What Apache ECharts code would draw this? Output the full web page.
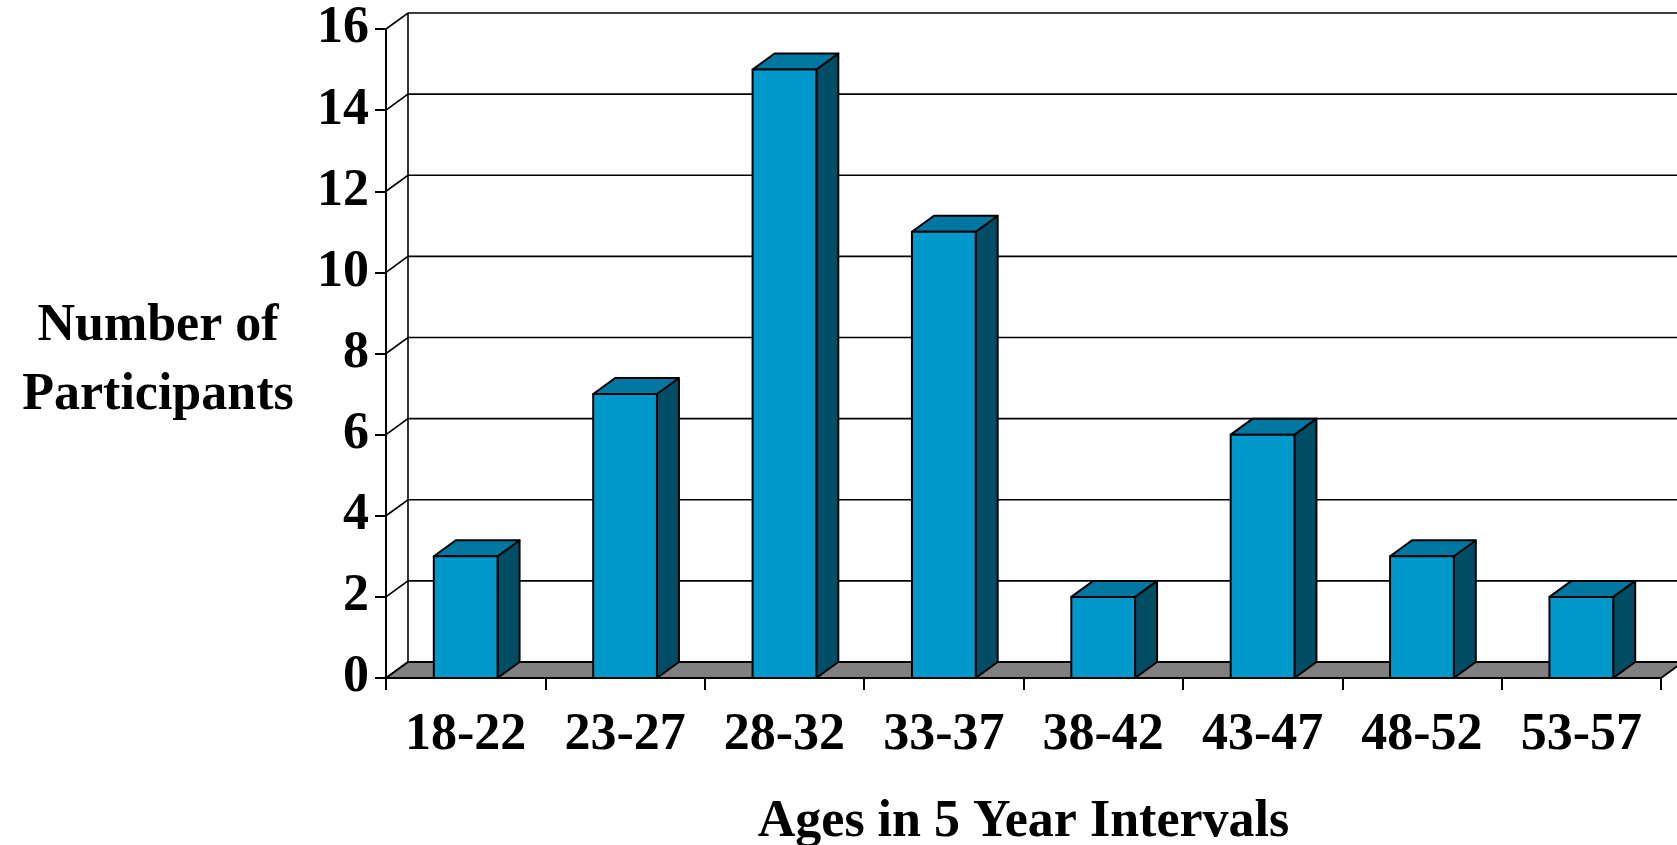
<!DOCTYPE html>
<html>
<head>
<meta charset="utf-8">
<script src="https://cdn.jsdelivr.net/npm/echarts@6/dist/echarts.min.js"></script>
<style>
  html, body { margin: 0; padding: 0; background: #ffffff; }
  #chart { width: 1677px; height: 845px; }
</style>
</head>
<body>
<div id="chart"></div>
<script>
// Age groups and participant counts
const ageGroups = ['18-22', '23-27', '28-32', '33-37', '38-42', '43-47', '48-52', '53-57'];
const participants = [3, 7, 15, 11, 2, 6, 3, 2];
const yTicks = [0, 2, 4, 6, 8, 10, 12, 14, 16];

// Oblique projection offset used for the 3D look (walls, floor, bar depth)
const DEPTH_X = 22;
const DEPTH_Y = -16;

const SERIF = '"Liberation Serif", "Times New Roman", serif';
const FRONT = '#0099CC';
const TOP = '#0077A0';
const SIDE = '#004D66';
const FLOOR = '#808080';

const chart = echarts.init(document.getElementById('chart'), null, { renderer: 'canvas' });

// Gridlines on the back wall plus the diagonals on the left side wall
function renderWall(params, api) {
  const cs = params.coordSys;
  const v = api.value(1);
  const y = api.coord([0, v])[1];
  const x0 = cs.x;
  const x1 = cs.x + cs.width;
  const children = [{
    type: 'polyline',
    shape: { points: [[x0, y], [x0 + DEPTH_X, y + DEPTH_Y], [x1 + DEPTH_X + 40, y + DEPTH_Y]] },
    style: { stroke: '#000', lineWidth: 1.6, fill: null }
  }];
  if (params.dataIndex === 0) {
    const yTop = api.coord([0, yTicks[yTicks.length - 1]])[1];
    children.push({
      type: 'line',
      shape: { x1: x0 + DEPTH_X, y1: y + DEPTH_Y, x2: x0 + DEPTH_X, y2: yTop + DEPTH_Y },
      style: { stroke: '#000', lineWidth: 1.6 }
    });
  }
  return { type: 'group', children: children };
}

// Grey floor under the bars
function renderFloor(params, api) {
  const cs = params.coordSys;
  const y = api.coord([0, 0])[1];
  const x0 = cs.x;
  const x1 = cs.x + cs.width;
  return {
    type: 'polygon',
    shape: { points: [[x0, y], [x1, y], [x1 + DEPTH_X, y + DEPTH_Y], [x0 + DEPTH_X, y + DEPTH_Y]] },
    style: { fill: FLOOR, stroke: '#000', lineWidth: 2, lineJoin: 'round' }
  };
}

// 3D column: front face, top face, right side face
function renderBar(params, api) {
  const i = api.value(0);
  const v = api.value(1);
  const top = api.coord([i, v]);
  const base = api.coord([i, 0]);
  const bw = api.size([1, 0])[0] * 0.4;
  const xl = top[0] - bw / 2;
  const xr = top[0] + bw / 2;
  const yt = top[1];
  const yb = base[1];
  const edge = { stroke: '#000', lineWidth: 2, lineJoin: 'round' };
  return {
    type: 'group',
    children: [
      {
        type: 'polygon',
        shape: { points: [[xr, yt], [xr + DEPTH_X, yt + DEPTH_Y], [xr + DEPTH_X, yb + DEPTH_Y], [xr, yb]] },
        style: Object.assign({ fill: SIDE }, edge)
      },
      {
        type: 'polygon',
        shape: { points: [[xl, yt], [xr, yt], [xr + DEPTH_X, yt + DEPTH_Y], [xl + DEPTH_X, yt + DEPTH_Y]] },
        style: Object.assign({ fill: TOP }, edge)
      },
      {
        type: 'rect',
        shape: { x: xl, y: yt, width: bw, height: yb - yt },
        style: Object.assign({ fill: FRONT }, edge)
      }
    ]
  };
}

const option = {
  backgroundColor: '#ffffff',
  animation: false,
  grid: { left: 386, right: 16, top: 29, bottom: 167, containLabel: false, outerBoundsMode: 'none' },
  graphic: [{
    type: 'text',
    x: 158,
    y: 361,
    style: {
      text: 'Number of\nParticipants',
      fontFamily: SERIF,
      fontWeight: 'bold',
      fontSize: 52,
      lineHeight: 69,
      align: 'center',
      verticalAlign: 'middle',
      fill: '#000'
    }
  }],
  xAxis: {
    type: 'category',
    data: ageGroups,
    boundaryGap: true,
    name: 'Ages in 5 Year Intervals',
    nameLocation: 'middle',
    nameGap: 119,
    nameTextStyle: { fontFamily: SERIF, fontWeight: 'bold', fontSize: 52, color: '#000' },
    axisLine: { show: true, lineStyle: { color: '#000', width: 2 } },
    axisTick: { show: true, length: 12, alignWithLabel: false, lineStyle: { color: '#000', width: 2 } },
    axisLabel: { fontFamily: SERIF, fontWeight: 'bold', fontSize: 52, color: '#000', margin: 32 },
    splitLine: { show: false }
  },
  yAxis: {
    type: 'value',
    min: 0,
    max: 16,
    interval: 2,
    axisLine: { show: true, lineStyle: { color: '#000', width: 2 } },
    axisTick: { show: true, length: 11, lineStyle: { color: '#000', width: 2 } },
    axisLabel: { fontFamily: SERIF, fontWeight: 'bold', fontSize: 52, color: '#000', margin: 17 },
    splitLine: { show: false }
  },
  series: [
    {
      type: 'custom',
      name: 'wall',
      renderItem: renderWall,
      data: yTicks.map(v => [0, v]),
      encode: { x: 0, y: 1 },
      clip: false,
      silent: true,
      z: 1
    },
    {
      type: 'custom',
      name: 'floor',
      renderItem: renderFloor,
      data: [[0, 0]],
      encode: { x: 0, y: 1 },
      clip: false,
      silent: true,
      z: 2
    },
    {
      type: 'custom',
      name: 'Number of Participants',
      renderItem: renderBar,
      data: participants.map((v, i) => [i, v]),
      encode: { x: 0, y: 1 },
      clip: false,
      z: 3
    }
  ]
};

chart.setOption(option);
</script>
</body>
</html>
